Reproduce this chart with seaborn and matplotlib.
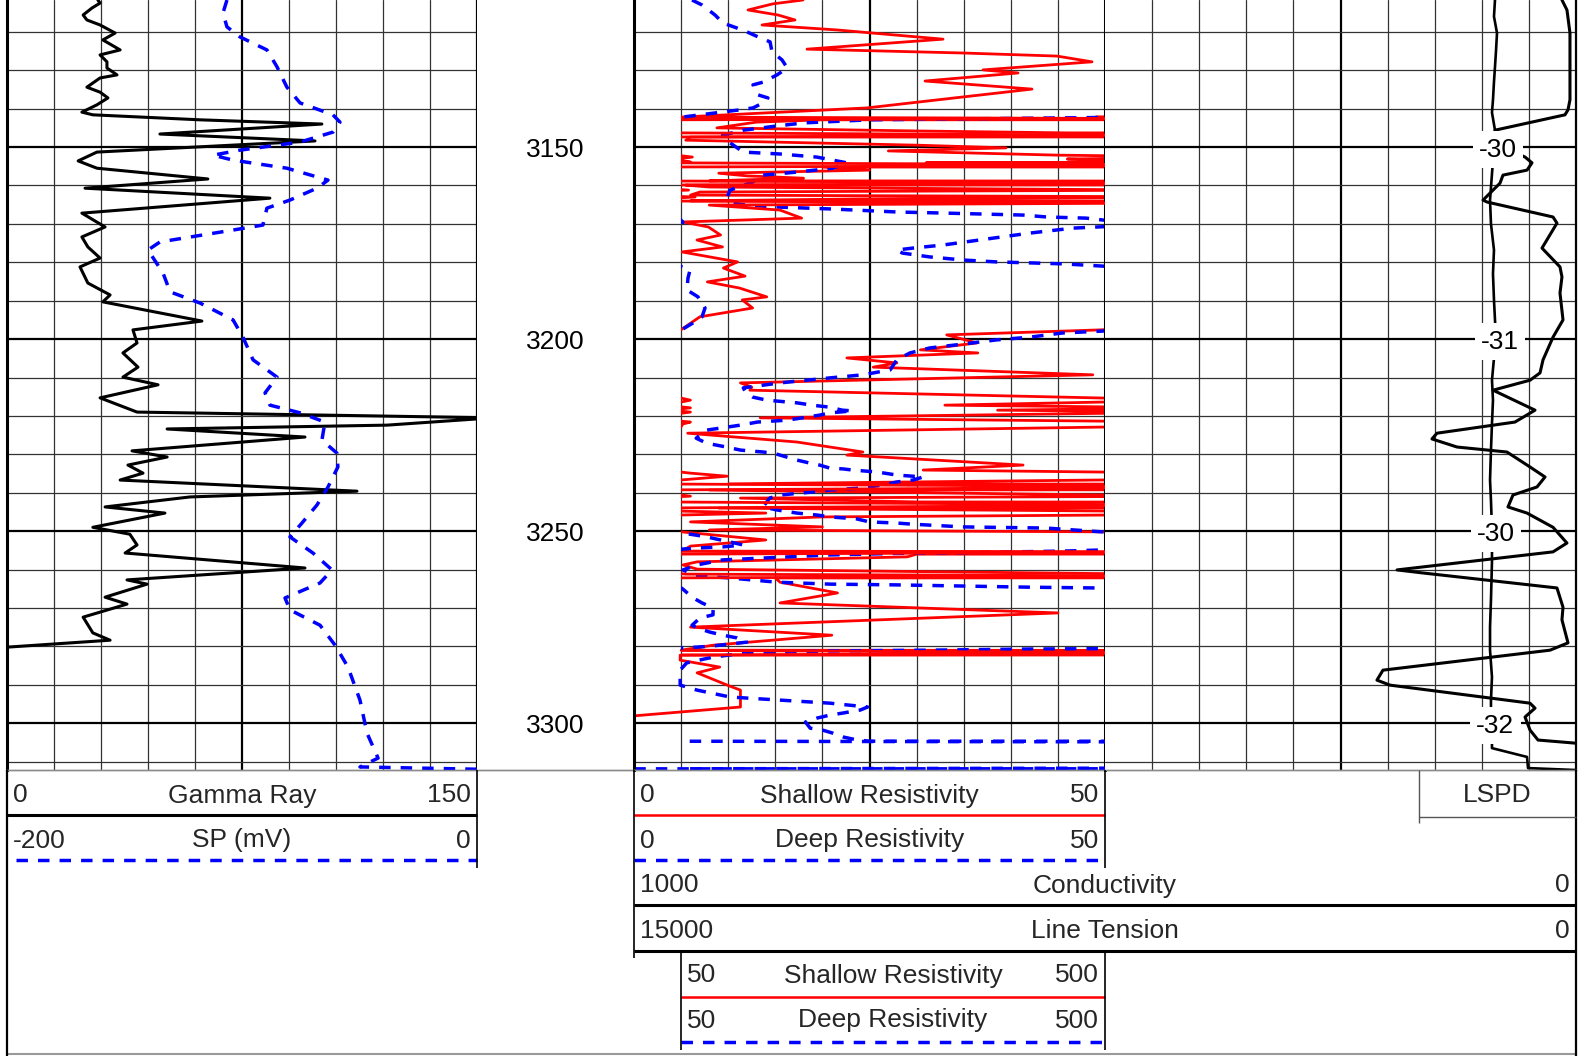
import numpy as np
import matplotlib
matplotlib.use("Agg")
import matplotlib.pyplot as plt
import seaborn as sns

# ---------------- log curves: (depth, value) ----------------
gamma_ray = [
    (3111.7, 29.0), (3112.5, 29.7), (3113.8, 27.1), (3115.6, 24.3), (3116.9, 25.5), (3118.2, 29.7),
    (3120.3, 34.5), (3122.1, 30.6), (3124.7, 36.1), (3126.0, 29.7), (3127.8, 31.9), (3129.4, 31.9),
    (3131.2, 35.1), (3132.0, 29.7), (3134.4, 25.5), (3135.7, 29.7), (3137.2, 32.2), (3139.0, 28.7),
    (3140.9, 23.9), (3141.6, 27.4), (3142.9, 61.6), (3144.0, 100.5), (3146.6, 48.8), (3148.4, 98.3),
    (3151.3, 28.7), (3153.6, 22.7), (3155.5, 28.7), (3158.3, 64.1), (3160.7, 24.9), (3163.3, 83.9),
    (3167.2, 23.9), (3170.8, 31.3), (3173.4, 23.9), (3176.0, 25.8), (3178.9, 29.7), (3181.2, 23.3),
    (3185.4, 25.8), (3188.5, 32.9), (3190.3, 30.6), (3195.3, 62.2), (3197.6, 40.2), (3201.0, 41.5),
    (3203.6, 37.0), (3207.3, 41.8), (3209.9, 37.0), (3211.9, 48.2), (3215.3, 29.7), (3219.0, 41.5),
    (3220.5, 155.0), (3222.4, 121.3), (3223.4, 51.1), (3225.5, 95.1), (3229.1, 39.9), (3230.7, 51.1),
    (3232.8, 38.6), (3234.9, 43.4), (3236.7, 36.1), (3239.6, 111.7), (3241.1, 58.4), (3243.7, 31.3),
    (3245.3, 50.4), (3249.0, 27.4), (3250.8, 39.2), (3253.6, 41.5), (3255.7, 37.7), (3259.6, 95.1),
    (3262.7, 38.3), (3263.8, 44.7), (3267.2, 31.3), (3269.0, 38.3), (3272.4, 24.3), (3276.5, 27.4),
    (3278.4, 32.9), (3280.2, 0.3),
]

sp_mv = [
    (3111.7, -106.4), (3115.1, -108.1), (3118.7, -106.4), (3121.3, -100.9), (3124.7, -89.4),
    (3129.1, -85.1), (3134.4, -80.9), (3138.5, -75.3), (3141.6, -61.3), (3143.5, -58.3),
    (3146.1, -61.3), (3148.7, -75.3), (3150.8, -100.9), (3152.1, -112.3), (3153.4, -103.8),
    (3155.5, -80.9), (3158.6, -63.4), (3160.7, -68.1), (3163.8, -79.6), (3165.9, -89.4),
    (3170.3, -91.1), (3171.6, -103.8), (3174.7, -134.9), (3176.8, -140.0), (3182.8, -133.6),
    (3187.7, -130.6), (3190.6, -117.9), (3195.0, -103.8), (3199.5, -99.6), (3205.4, -95.3),
    (3209.9, -85.1), (3214.0, -90.2), (3217.2, -88.1), (3219.2, -75.3), (3221.6, -64.7),
    (3226.3, -66.0), (3229.7, -59.6), (3233.3, -59.2), (3238.5, -63.4), (3243.2, -68.1),
    (3247.9, -74.5), (3251.5, -79.6), (3255.7, -69.8), (3260.1, -61.7), (3263.5, -66.8),
    (3267.4, -81.7), (3270.5, -79.6), (3274.5, -66.8), (3279.7, -60.4), (3285.4, -54.9),
    (3294.0, -49.8), (3302.6, -46.8), (3309.1, -42.1), (3311.4, -49.8), (3312.0, 0.0),
]

shallow_res = [
    (3111.7, 179.5), (3112.7, 147.6), (3114.3, 121.1), (3115.6, 152.9), (3116.9, 171.0), (3118.2, 136.0),
    (3119.5, 215.6), (3121.9, 328.1), (3124.5, 183.7), (3125.5, 349.3), (3126.3, 449.0), (3127.8, 486.2),
    (3129.9, 370.5), (3130.7, 407.7), (3132.8, 309.0), (3134.9, 422.5), (3139.8, 247.4),
    (3142.2, 49), (3142.6, 600), (3142.9, 20), (3143.5, 13), (3145.0, 8.8), (3145.8, 30), (3146.3, 46),
    (3146.9, 550), (3147.4, 6), (3148.2, 5.5), (3149.5, 30), (3150.2, 39.5), (3151.0, 27), (3151.5, 35),
    (3152.1, 45), (3152.6, 62), (3153.1, 46), (3153.6, 52), (3153.9, 60), (3154.1, 31), (3154.7, 700),
    (3155.2, 20), (3156.0, 25), (3156.8, 9), (3157.5, 12), (3158.1, 18), (3158.8, 8), (3159.4, 650),
    (3159.9, 5.5), (3160.4, 8), (3161.2, 58), (3161.7, 7), (3162.5, 6), (3163.0, 65), (3163.5, 24),
    (3164.0, 6), (3164.6, 550), (3165.1, 80), (3166.4, 155), (3168.5, 178), (3169.5, 52), (3170.8, 79),
    (3172.9, 92), (3174.2, 67), (3176.0, 94), (3177.3, 51), (3179.9, 110), (3181.5, 95), (3183.6, 118),
    (3185.1, 78), (3186.7, 112), (3189.0, 141), (3189.8, 115), (3191.9, 126), (3194.2, 70), (3197.4, 51),
    (3197.6, 49.5), (3198.9, 33.2), (3201.0, 36.4), (3202.8, 30.4), (3203.6, 36.5), (3204.9, 22.6),
    (3206.2, 27.9), (3207.3, 25.4), (3209.3, 48.7), (3211.4, 11.3), (3212.5, 12.5), (3213.3, 12.3),
    (3215.9, 60), (3217.2, 33), (3217.9, 60), (3218.5, 38.6), (3219.0, 60), (3220.5, 13.4), (3221.6, 60),
    (3222.1, 52), (3222.9, 49.9), (3224.5, 5.7), (3226.8, 17.3), (3229.4, 24.3), (3230.2, 22.6),
    (3232.8, 41.3), (3234.1, 30.7), (3234.9, 60), (3235.7, 99), (3236.7, 49), (3237.7, 10), (3238.5, 650),
    (3239.3, 8), (3240.3, 40), (3240.9, 60), (3241.4, 11.3), (3242.4, 30), (3243.2, 600), (3244.0, 9),
    (3244.8, 52), (3245.3, 140), (3245.8, 51), (3246.3, 20), (3247.6, 6), (3248.9, 20), (3249.7, 8),
    (3250.2, 51), (3252.3, 140), (3253.9, 60), (3255.2, 51), (3255.4, 700), (3256.0, 30), (3256.7, 29),
    (3258.0, 6.7), (3258.8, 5.2), (3259.9, 6.7), (3261.2, 55), (3261.7, 600), (3262.2, 15), (3263.3, 15.5),
    (3266.1, 21.6), (3268.7, 15.5), (3271.3, 45), (3275.0, 6), (3277.1, 21), (3279.7, 8.4), (3281.0, 5),
    (3281.7, 600), (3282.3, 4.9), (3283.6, 4.9), (3285.4, 9.1), (3286.9, 6.7), (3290.1, 9.9),
    (3291.4, 11.3), (3295.8, 11.3), (3298.1, 0),
]

deep_res = [
    (3111.7, 61.7), (3113.0, 72.3), (3115.6, 86.1), (3117.7, 94.6), (3119.0, 109.4), (3120.0, 120.0),
    (3121.3, 131.7), (3122.6, 144.5), (3125.2, 146.6), (3127.3, 157.2), (3129.4, 162.8), (3131.2, 151.9),
    (3133.1, 137.0), (3133.8, 126.4), (3136.4, 131.7), (3137.2, 142.3), (3138.5, 137.0), (3139.8, 126.4),
    (3140.3, 112.6), (3142.2, 51),
    (3142.3, 49.5), (3142.9, 25), (3143.7, 18), (3144.5, 15.2), (3145.6, 11.6), (3146.9, 9.4),
    (3148.9, 10.2), (3151.3, 11.6), (3151.8, 15.5), (3152.6, 19.4), (3154.1, 22.6), (3155.5, 21.1),
    (3156.5, 17.3), (3157.3, 13.7), (3159.1, 12.6), (3161.2, 10.2), (3163.0, 9.9), (3164.6, 10.5),
    (3165.1, 11.9), (3165.6, 15.1), (3166.1, 20.8), (3166.9, 27.9), (3167.2, 33.2), (3167.7, 41.3),
    (3168.2, 43.8), (3168.5, 48.0), (3169.0, 49.8), (3169.5, 52), (3170.6, 51), (3171.1, 46.6),
    (3172.4, 42.0), (3174.2, 36.7), (3175.5, 32.8), (3176.3, 29.6), (3176.8, 27.9), (3177.6, 28.5),
    (3178.6, 31.4), (3179.4, 34.9), (3179.9, 38.5), (3180.4, 45.5), (3181.0, 49.8), (3181.2, 51),
    (3182.0, 59.6), (3184.1, 57.4), (3187.2, 56.4), (3189.0, 68.0), (3191.9, 75.5), (3194.2, 72.3),
    (3195.8, 62.7), (3197.6, 50.5),
    (3197.9, 49.8), (3198.4, 45.5), (3199.5, 42.0), (3200.2, 38.5), (3201.3, 34.9), (3202.3, 31.4),
    (3203.6, 29.3), (3205.4, 27.9), (3208.0, 27.2), (3209.3, 24.3), (3210.1, 20.8), (3211.4, 15.5),
    (3212.7, 11.6), (3214.0, 11.9), (3215.1, 12.6), (3215.9, 14.1), (3216.6, 17.3), (3217.2, 18.9),
    (3217.7, 20.7), (3218.5, 22.1), (3218.7, 23.2), (3219.2, 20.8), (3219.8, 19.7), (3221.1, 16.3),
    (3221.6, 13.1), (3222.4, 11.3), (3223.7, 7.7), (3225.8, 6.6), (3227.1, 7.7), (3228.1, 9.8),
    (3228.9, 11.3), (3229.4, 13.7), (3229.7, 14.8), (3230.7, 16.2), (3231.5, 17.3), (3232.3, 18.7),
    (3232.8, 19.7), (3233.6, 20.8), (3233.8, 22.2), (3234.1, 23.2), (3234.6, 25.8), (3235.4, 27.9),
    (3235.9, 30.7), (3236.7, 29.6), (3237.2, 27.9), (3238.0, 26.4), (3238.8, 24.0), (3239.3, 20.8),
    (3239.8, 19.0), (3240.6, 15.5), (3241.4, 14.4), (3243.7, 13.7), (3244.5, 15.2), (3245.3, 17.3),
    (3245.8, 19.4), (3246.3, 20.8), (3246.8, 23.6), (3247.6, 25.0), (3247.9, 27.9), (3248.2, 29.6),
    (3248.9, 34.9), (3249.2, 43.8), (3249.5, 45.5), (3250.2, 49.8), (3250.5, 51),
    (3250.8, 59.6), (3251.5, 77.6), (3252.1, 88.2), (3252.8, 102), (3253.6, 115.8), (3254.1, 94.6),
    (3254.4, 67), (3254.7, 50.5),
    (3254.9, 49.8), (3255.2, 45.5), (3255.6, 34.9), (3255.8, 27.9), (3256.2, 20.8), (3257.0, 13.7),
    (3257.5, 9.4), (3258.8, 6.7), (3260.1, 5.2), (3261.4, 6.3), (3261.9, 8.4), (3262.2, 10.2),
    (3263.3, 15.2), (3263.8, 20.8), (3264.0, 27.9), (3264.3, 34.9), (3264.6, 42.0), (3264.8, 49.2),
    (3264.9, 51),
    (3265.3, 53), (3267.2, 61.7), (3268.7, 72.3), (3270.0, 84.0), (3271.8, 84.0), (3272.6, 70.2),
    (3274.5, 61.7), (3275.2, 67.0), (3276.3, 80.8), (3277.1, 94.6), (3277.8, 109.4), (3278.9, 120.0),
    (3279.4, 102.0), (3279.9, 84.0), (3280.2, 67.0), (3280.4, 50.5),
    (3280.6, 49.8), (3280.7, 42.0), (3281.0, 31.4), (3281.2, 20.8), (3281.7, 11.9), (3282.8, 8.4),
    (3284.3, 5.6), (3286.2, 4.9), (3290.1, 4.9), (3291.4, 6.7), (3293.2, 10.2), (3294.0, 15.5),
    (3294.8, 20.8), (3295.8, 24.8), (3296.6, 24.0), (3297.4, 22.1), (3297.9, 20.8), (3298.7, 19.4),
    (3299.7, 18.2), (3301.3, 18.7), (3301.8, 20.0), (3302.6, 21.1), (3303.6, 22.2), (3304.4, 23.7),
    (3304.7, 25.0), (3304.9, 600), (3311.7, 600), (3311.9, 0),
]

conductivity = [
    (3111.7, 14.9), (3114.3, 9.6), (3120.3, 6.4), (3137.7, 6.4), (3140.3, 8.5), (3141.6, 11.7),
    (3145.6, 86.0), (3149.5, 80.7), (3152.6, 54.1), (3154.1, 46.7), (3156.0, 52.0), (3157.3, 77.5),
    (3159.4, 80.7), (3163.8, 98.7), (3164.3, 94.5), (3168.2, 24.4), (3169.8, 20.2), (3176.3, 36.1),
    (3181.2, 17.0), (3183.8, 14.9), (3188.0, 17.0), (3195.0, 13.8), (3199.5, 24.4), (3205.4, 35.0),
    (3208.8, 38.2), (3210.7, 48.8), (3213.3, 88.1), (3218.5, 43.5), (3221.6, 64.8), (3224.5, 147.6),
    (3226.0, 152.9), (3228.1, 126.3), (3229.4, 73.3), (3233.3, 48.8), (3235.9, 32.9), (3238.5, 41.4),
    (3240.6, 66.9), (3243.7, 72.2), (3245.3, 52.0), (3249.0, 24.4), (3253.1, 9.6), (3255.4, 24.4),
    (3260.1, 190.0), (3260.9, 162.4), (3264.8, 20.2), (3269.8, 13.8), (3273.1, 14.9), (3279.1, 8.5),
    (3281.0, 27.6), (3286.2, 204.9), (3288.8, 211.3), (3290.1, 197.5), (3294.8, 48.8), (3296.1, 43.5),
    (3298.4, 54.1), (3301.8, 48.8), (3304.4, 40.3), (3305.2, 1.1),
]

line_tension = [
    (3111.7, 1290), (3116.0, 1306), (3120.3, 1258), (3125.0, 1274), (3129.1, 1290), (3133.0, 1306),
    (3137.7, 1322), (3141.0, 1338), (3145.6, 1290), (3150.0, 1306), (3157.0, 1338), (3163.8, 1369),
    (3170.0, 1354), (3176.8, 1306), (3183.0, 1322), (3189.8, 1306), (3195.0, 1290), (3200.2, 1274),
    (3205.0, 1306), (3210.7, 1338), (3215.9, 1322), (3222.0, 1338), (3228.9, 1354), (3236.7, 1369),
    (3242.0, 1354), (3249.7, 1338), (3258.0, 1338), (3267.9, 1354), (3275.0, 1369), (3281.0, 1369),
    (3288.0, 1338), (3294.0, 1354), (3299.0, 1354), (3304.4, 1338), (3306.5, 1338), (3308.8, 780),
    (3311.7, 764), (3312.2, 16),
]

lspd_depths = [3150, 3200, 3250, 3300]
lspd_values = [-30, -31, -30, -32]
depth_labels = [3150, 3200, 3250, 3300]

DEPTH_TOP, DEPTH_BOTTOM = 3111.7, 3312.2

# ---------------- figure set-up ----------------
sns.set_theme(style="white")
plt.rcParams["font.family"] = ["Liberation Sans", "DejaVu Sans"]
FS = 19
RED, BLUE = "#ff0000", "#0000ff"
DASH = (0, (3.3, 2.9))
LW_DASH = 2.5

W, H = 1592, 1056
fig = plt.figure(figsize=(W / 100, H / 100), dpi=100)
fig.patch.set_facecolor("white")


def px_axes(x0, x1, y0, y1):
    return fig.add_axes([x0 / W, 1 - y1 / H, (x1 - x0) / W, (y1 - y0) / H])


def unpack(pairs):
    arr = np.asarray(pairs, dtype=float)
    return arr[:, 0], arr[:, 1]


def draw_curve(ax, pairs, **kw):
    depth, value = unpack(pairs)
    sns.lineplot(x=value, y=depth, ax=ax, orient="y", sort=False, estimator=None, **kw)


def finish(ax, xmin, xmax, grid=False, overlay=False):
    ax.set_xlim(xmin, xmax)
    ax.set_ylim(DEPTH_BOTTOM, DEPTH_TOP)
    ax.set_xlabel("")
    ax.set_ylabel("")
    if grid:
        ticks = np.linspace(xmin, xmax, 11)
        ax.set_xticks([ticks[5]])
        ax.set_xticks(ticks[1:10], minor=True)
        ax.set_yticks([3150, 3200, 3250, 3300])
        ax.set_yticks(np.arange(3120, 3311, 10), minor=True)
        ax.grid(which="major", color="black", lw=1.6)
        ax.grid(which="minor", color="#333333", lw=0.9)
        ax.set_axisbelow(True)
    else:
        ax.set_xticks([])
        ax.set_yticks([])
    ax.tick_params(which="both", length=0, labelbottom=False, labelleft=False)
    if overlay:
        ax.patch.set_visible(False)
        for s in ax.spines.values():
            s.set_visible(False)
    else:
        ax.spines["top"].set_visible(False)
        ax.spines["bottom"].set_color("#8c8c8c")
        ax.spines["bottom"].set_linewidth(1.0)
        for side in ("left", "right"):
            ax.spines[side].set_color("black")
            ax.spines[side].set_linewidth(1.6)


# Track 1: gamma ray + SP
ax_gr = px_axes(7, 477, 0, 770)
draw_curve(ax_gr, gamma_ray, color="black", lw=2.2)
finish(ax_gr, 0, 150, grid=True)
ax_gr.spines["left"].set_linewidth(2.2)

ax_sp = px_axes(7, 477, 0, 770)
draw_curve(ax_sp, sp_mv, color=BLUE, lw=LW_DASH, linestyle=DASH)
finish(ax_sp, -200, 0, overlay=True)

# Depth track
ax_depth = px_axes(477, 634, 0, 770)
finish(ax_depth, 0, 1)
ax_depth.spines["left"].set_visible(False)
ax_depth.spines["right"].set_visible(False)
for d in depth_labels:
    ax_depth.text(0.5, d, f"{d}", ha="center", va="center_baseline", fontsize=FS, color="black")

# Track 2: resistivity, 0-50 with 50-500 wrap-around
ax_res = px_axes(634, 1105, 0, 770)
draw_curve(ax_res, shallow_res, color=RED, lw=2.0)
draw_curve(ax_res, deep_res, color=BLUE, lw=LW_DASH, linestyle=DASH)
finish(ax_res, 0, 50, grid=True)
ax_res.spines["left"].set_linewidth(2.2)
ax_res.spines["right"].set_linewidth(2.2)

ax_bk = px_axes(681, 1105, 0, 770)
draw_curve(ax_bk, shallow_res, color=RED, lw=2.0)
draw_curve(ax_bk, deep_res, color=BLUE, lw=LW_DASH, linestyle=DASH)
finish(ax_bk, 50, 500, overlay=True)

# Track 3: grid only, curves scaled across tracks 2-3
ax_t3 = px_axes(1105, 1576, 0, 770)
finish(ax_t3, 0, 1, grid=True)
ax_t3.spines["left"].set_visible(False)

ax_cond = px_axes(634, 1576, 0, 770)
draw_curve(ax_cond, conductivity, color="black", lw=2.2)
finish(ax_cond, 1000, 0, overlay=True)

ax_lt = px_axes(634, 1576, 0, 770)
draw_curve(ax_lt, line_tension, color="black", lw=1.9)
finish(ax_lt, 15000, 0, overlay=True)
lt_depth, lt_value = unpack(line_tension)
for d, v in zip(lspd_depths, lspd_values):
    x = np.interp(d, lt_depth, lt_value)
    ax_lt.annotate(f"{v}", (x, d), xytext=(3, 0), textcoords="offset points",
                   ha="center", va="center_baseline", fontsize=FS, color="black",
                   zorder=6, bbox=dict(facecolor="white", edgecolor="none", pad=4.5))

# ---------------- header block ----------------
hdr = fig.add_axes([0, 0, 1, 1])
hdr.set_xlim(0, W)
hdr.set_ylim(H, 0)
hdr.axis("off")
hdr.patch.set_visible(False)


def hline(x0, x1, y, **kw):
    hdr.plot([x0, x1], [y, y], solid_capstyle="butt", **kw)


def vline(x, y0, y1, **kw):
    hdr.plot([x, x], [y0, y1], solid_capstyle="butt", **kw)


def row(x0, x1, yc, left, title, right):
    hdr.text(x0 + 6, yc, left, ha="left", va="center_baseline", fontsize=FS)
    hdr.text((x0 + x1) / 2, yc, title, ha="center", va="center_baseline", fontsize=FS)
    hdr.text(x1 - 6, yc, right, ha="right", va="center_baseline", fontsize=FS)


hline(7, 1576, 770, color="#8c8c8c", lw=1.0)
hline(7, 1576, 1054, color="#9a9a9a", lw=1.5)

# track 1 header
row(7, 477, 793, "0", "Gamma Ray", "150")
hline(7, 477, 815, color="black", lw=2.2)
row(7, 477, 838, "-200", "SP (mV)", "0")
hline(16, 477, 860, color=BLUE, lw=LW_DASH, linestyle=DASH)
vline(7, 770, 1056, color="black", lw=1.6)
vline(477, 770, 868, color="black", lw=1.2)

# track 2 header
row(634, 1105, 793, "0", "Shallow Resistivity", "50")
hline(634, 1105, 815, color=RED, lw=1.8)
row(634, 1105, 838, "0", "Deep Resistivity", "50")
hline(634, 1105, 860, color=BLUE, lw=LW_DASH, linestyle=DASH)
row(634, 1576, 883, "1000", "Conductivity", "0")
hline(634, 1576, 905, color="black", lw=2.2)
row(634, 1576, 928, "15000", "Line Tension", "0")
hline(634, 1576, 951, color="black", lw=2.2)
row(681, 1105, 973, "50", "Shallow Resistivity", "500")
hline(681, 1105, 997, color=RED, lw=1.8)
row(681, 1105, 1018, "50", "Deep Resistivity", "500")
hline(681, 1105, 1042, color=BLUE, lw=LW_DASH, linestyle=DASH)
vline(634, 770, 958, color="black", lw=1.2)
vline(1105, 770, 868, color="black", lw=1.2)
vline(681, 952, 1050, color="black", lw=1.2)
vline(1105, 952, 1050, color="black", lw=1.2)

# track 3 header
vline(1576, 770, 1056, color="black", lw=1.6)
vline(1419, 770, 823, color="#555555", lw=1.0)
hline(1419, 1576, 817, color="#555555", lw=1.0)
hdr.text((1419 + 1576) / 2, 793, "LSPD", ha="center", va="center_baseline", fontsize=FS)

fig.savefig("out.png", dpi=100, facecolor="white")
